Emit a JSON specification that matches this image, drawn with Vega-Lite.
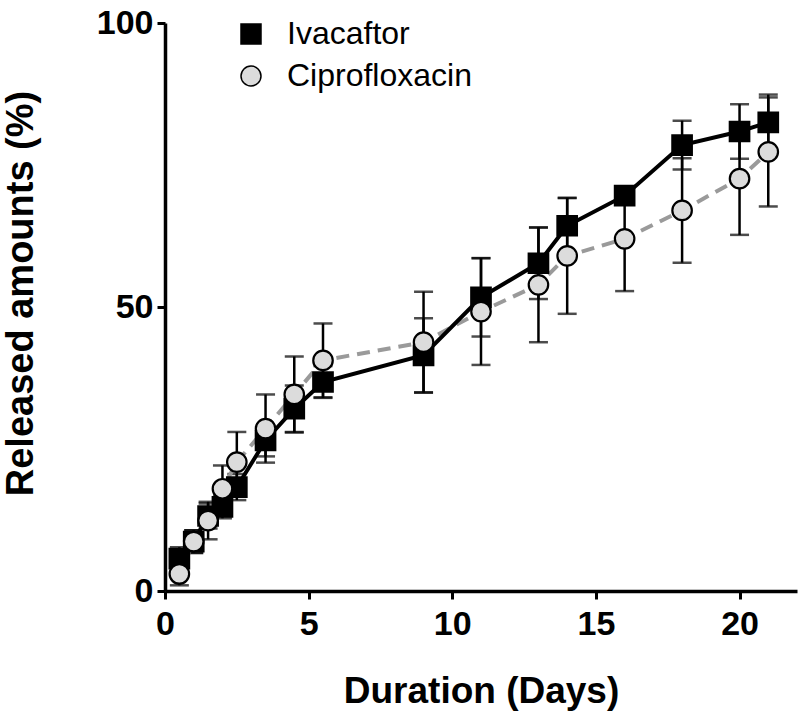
{
  "$schema": "https://vega.github.io/schema/vega-lite/v6.json",
  "autosize": {"type": "none"},
  "width": 632,
  "height": 568,
  "padding": {"left": 165, "top": 23, "right": 3, "bottom": 128},
  "background": "white",
  "config": {
    "view": {"stroke": null},
    "font": "Liberation Sans",
    "axis": {
      "grid": false,
      "domainColor": "black",
      "domainWidth": 3.5,
      "tickColor": "black",
      "tickWidth": 3,
      "tickSize": 8,
      "labelFont": "Liberation Sans",
      "labelFontWeight": "bold",
      "labelFontSize": 34,
      "labelColor": "black",
      "labelFlush": false,
      "labelOverlap": false,
      "titleFont": "Liberation Sans",
      "titleFontWeight": "bold",
      "titleFontSize": 37,
      "titleColor": "black"
    }
  },
  "data": {
    "values": [
      {"series": "Ivacaftor", "day": 0.5, "mean": 5.7, "err": 2.0},
      {"series": "Ivacaftor", "day": 1, "mean": 8.7, "err": 2.0},
      {"series": "Ivacaftor", "day": 1.5, "mean": 13.2, "err": 2.2},
      {"series": "Ivacaftor", "day": 2, "mean": 14.8, "err": 2.0},
      {"series": "Ivacaftor", "day": 2.5, "mean": 18.3, "err": 2.3},
      {"series": "Ivacaftor", "day": 3.5, "mean": 26.5, "err": 2.8},
      {"series": "Ivacaftor", "day": 4.5, "mean": 32.1, "err": 4.1},
      {"series": "Ivacaftor", "day": 5.5, "mean": 36.8, "err": 2.8},
      {"series": "Ivacaftor", "day": 9, "mean": 41.5, "err": 6.5},
      {"series": "Ivacaftor", "day": 11, "mean": 51.7, "err": 6.9},
      {"series": "Ivacaftor", "day": 13, "mean": 57.7, "err": 6.3},
      {"series": "Ivacaftor", "day": 14, "mean": 64.3, "err": 4.9},
      {"series": "Ivacaftor", "day": 16, "mean": 69.6, "err": 1.5},
      {"series": "Ivacaftor", "day": 18, "mean": 78.5, "err": 4.3},
      {"series": "Ivacaftor", "day": 20, "mean": 80.9, "err": 4.8},
      {"series": "Ivacaftor", "day": 21, "mean": 82.5, "err": 4.9},
      {"series": "Ciprofloxacin", "day": 0.5, "mean": 3.0, "err": 2.0},
      {"series": "Ciprofloxacin", "day": 1, "mean": 8.7, "err": 2.0},
      {"series": "Ciprofloxacin", "day": 1.5, "mean": 12.4, "err": 3.3},
      {"series": "Ciprofloxacin", "day": 2, "mean": 18.0, "err": 4.1},
      {"series": "Ciprofloxacin", "day": 2.5, "mean": 22.7, "err": 5.3},
      {"series": "Ciprofloxacin", "day": 3.5, "mean": 28.6, "err": 6.0},
      {"series": "Ciprofloxacin", "day": 4.5, "mean": 34.6, "err": 6.7},
      {"series": "Ciprofloxacin", "day": 5.5, "mean": 40.6, "err": 6.5},
      {"series": "Ciprofloxacin", "day": 9, "mean": 43.8, "err": 8.9},
      {"series": "Ciprofloxacin", "day": 11, "mean": 49.2, "err": 9.4},
      {"series": "Ciprofloxacin", "day": 13, "mean": 53.9, "err": 10.1},
      {"series": "Ciprofloxacin", "day": 14, "mean": 59.0, "err": 10.2},
      {"series": "Ciprofloxacin", "day": 16, "mean": 62.0, "err": 9.2},
      {"series": "Ciprofloxacin", "day": 18, "mean": 67.0, "err": 9.2},
      {"series": "Ciprofloxacin", "day": 20, "mean": 72.6, "err": 9.9},
      {"series": "Ciprofloxacin", "day": 21, "mean": 77.3, "err": 9.6}
    ]
  },
  "encoding": {
    "x": {
      "field": "day",
      "type": "quantitative",
      "scale": {"domain": [0, 22], "nice": false, "zero": false},
      "axis": {"values": [0, 5, 10, 15, 20], "title": "Duration (Days)", "labelPadding": 8, "titlePadding": 32}
    },
    "y": {
      "field": "mean",
      "type": "quantitative",
      "scale": {"domain": [0, 100], "nice": false},
      "axis": {"values": [0, 50, 100], "title": "Released  amounts (%)", "labelPadding": 4, "titlePadding": 56, "titleFontSize": 38, "titleY": 270}
    }
  },
  "layer": [
    {
      "mark": {
        "type": "errorbar",
        "ticks": {"size": 19, "thickness": 2.5, "color": "black"},
        "rule": {"strokeWidth": 2.5, "color": "black"}
      },
      "encoding": {
        "x": {"field": "day", "type": "quantitative"},
        "y": {"field": "mean", "type": "quantitative"},
        "yError": {"field": "err"}
      }
    },
    {
      "transform": [{"filter": "datum.series === 'Ciprofloxacin'"}],
      "mark": {"type": "line", "color": "#9a9a9a", "strokeWidth": 4, "strokeDash": [13, 8]},
      "encoding": {}
    },
    {
      "transform": [{"filter": "datum.series === 'Ivacaftor'"}],
      "mark": {"type": "line", "color": "black", "strokeWidth": 4},
      "encoding": {}
    },
    {
      "mark": {"type": "point", "filled": true, "stroke": "black", "strokeWidth": 2.2, "size": 380, "opacity": 1},
      "encoding": {
        "fill": {
          "field": "series",
          "type": "nominal",
          "scale": {"domain": ["Ivacaftor", "Ciprofloxacin"], "range": ["black", "#dcdcdc"]},
          "legend": {
            "title": null,
            "orient": "none",
            "legendX": 70,
            "legendY": -5,
            "labelFont": "Liberation Sans",
            "labelFontSize": 32,
            "labelColor": "black",
            "labelOffset": 20,
            "labelLimit": 400,
            "symbolSize": 400,
            "rowPadding": 10,
            "encode": {"symbols": {"update": {"stroke": {"value": "black"}, "strokeWidth": {"value": 2.2}, "opacity": {"value": 1}}}}
          }
        },
        "shape": {
          "field": "series",
          "type": "nominal",
          "scale": {"domain": ["Ivacaftor", "Ciprofloxacin"], "range": ["square", "circle"]},
          "legend": {
            "title": null,
            "orient": "none",
            "legendX": 70,
            "legendY": -5,
            "labelFont": "Liberation Sans",
            "labelFontSize": 32,
            "labelColor": "black",
            "labelOffset": 20,
            "labelLimit": 400,
            "symbolSize": 400,
            "rowPadding": 10,
            "encode": {"symbols": {"update": {"stroke": {"value": "black"}, "strokeWidth": {"value": 2.2}, "opacity": {"value": 1}}}}
          }
        }
      }
    }
  ]
}
